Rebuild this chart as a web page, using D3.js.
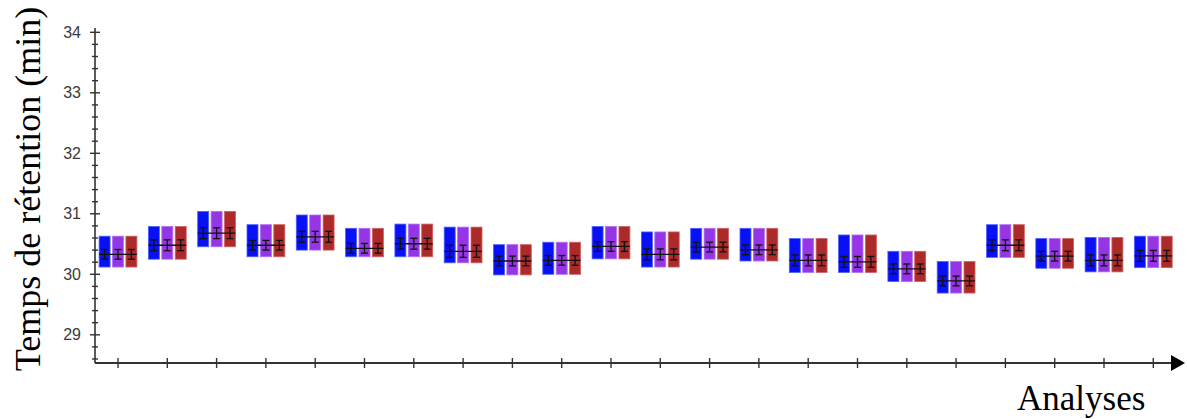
<!DOCTYPE html>
<html>
<head>
<meta charset="utf-8">
<script src="https://cdn.jsdelivr.net/npm/d3@7"></script>
<style>
html,body{margin:0;padding:0;background:#fff;}
svg{display:block;}
</style>
</head>
<body>
<svg id="chart" width="1187" height="419"></svg>
<script>
// ---- data ----
const analyses = d3.range(1, 23).map(String);
const series = ["A", "B", "C"];
const seriesColors = ["#0a10f5", "#9535e6", "#ad2a2a"];
const seriesStroke = ["#4a60ff", "#b070f0", "#d06060"];
const boxTop =    [30.63,30.79,31.04,30.82,30.98,30.76,30.83,30.78,30.49,30.53,30.79,30.70,30.76,30.76,30.59,30.65,30.38,30.21,30.82,30.59,30.61,30.63];
const boxBottom = [30.12,30.25,30.455,30.29,30.40,30.29,30.29,30.19,29.99,30.00,30.255,30.12,30.25,30.22,30.03,30.03,29.88,29.69,30.28,30.10,30.04,30.11];
const means =     [30.33,30.48,30.68,30.48,30.62,30.43,30.505,30.38,30.22,30.23,30.46,30.33,30.45,30.405,30.23,30.205,30.09,29.89,30.48,30.30,30.23,30.305];
const errs =      [0.08,0.09,0.09,0.08,0.09,0.08,0.09,0.10,0.08,0.08,0.08,0.09,0.08,0.08,0.09,0.09,0.08,0.08,0.09,0.08,0.09,0.09];
const yTickLabels = [29, 30, 31, 32, 33, 34];
const yTitle = "Temps de rétention (min)";
const xTitle = "Analyses";

// ---- scales ----
const svg = d3.select("#chart");
const y = d3.scaleLinear().domain([30, 34]).range([274.3, 32.3]);
const x = d3.scalePoint().domain(analyses).range([118, 1153.3]);
const xs = d3.scaleBand().domain(series).range([-18.9, 18.9]).paddingInner(0.18).paddingOuter(0);

const axisX = 95, axisY = 363;
const axisColor = "#333";

// y axis line
svg.append("line").attr("x1", axisX).attr("x2", axisX).attr("y1", 28).attr("y2", axisY)
  .attr("stroke", axisColor).attr("stroke-width", 1.6);
// minor ticks
const minor = d3.range(28.6, 34.01, 0.2).map(v => +v.toFixed(1));
svg.append("g").selectAll("line").data(minor.filter(v => !yTickLabels.includes(v))).join("line")
  .attr("x1", axisX - 3).attr("x2", axisX + 3)
  .attr("y1", d => y(d)).attr("y2", d => y(d))
  .attr("stroke", axisColor).attr("stroke-width", 1.4);
// major ticks
svg.append("g").selectAll("line").data(yTickLabels).join("line")
  .attr("x1", axisX - 5).attr("x2", axisX + 5)
  .attr("y1", d => y(d)).attr("y2", d => y(d))
  .attr("stroke", axisColor).attr("stroke-width", 1.4);
svg.append("g").selectAll("text").data(yTickLabels).join("text")
  .attr("x", 81).attr("y", d => y(d)).attr("dy", "0.35em")
  .attr("text-anchor", "end").attr("font-family", "Liberation Sans, Arial, sans-serif")
  .attr("font-size", 16).attr("fill", "#3a3a3a").text(d => d);

// x axis
svg.append("line").attr("x1", axisX).attr("x2", 1174).attr("y1", axisY).attr("y2", axisY)
  .attr("stroke", axisColor).attr("stroke-width", 1.8);
svg.append("path").attr("d", `M1171,355 L1185,${axisY} L1171,371 Z`).attr("fill", "#000");
svg.append("g").selectAll("line").data(analyses).join("line")
  .attr("x1", d => x(d)).attr("x2", d => x(d))
  .attr("y1", axisY - 5).attr("y2", axisY + 5)
  .attr("stroke", axisColor).attr("stroke-width", 1.4);

// boxes
const groups = svg.append("g").selectAll("g").data(analyses).join("g")
  .attr("transform", d => `translate(${x(d)},0)`);
groups.each(function(a, i) {
  const g = d3.select(this);
  series.forEach((s, k) => {
    g.append("rect")
      .attr("x", xs(s)).attr("width", xs.bandwidth())
      .attr("y", y(boxTop[i])).attr("height", y(boxBottom[i]) - y(boxTop[i]))
      .attr("fill", seriesColors[k]).attr("stroke", seriesStroke[k]).attr("stroke-width", 0.8);
  });
  // mean line across group
  g.append("line").attr("x1", xs("A")).attr("x2", xs("C") + xs.bandwidth())
    .attr("y1", y(means[i])).attr("y2", y(means[i]))
    .attr("stroke", "#111").attr("stroke-width", 1.3);
  series.forEach((s, k) => {
    const cx = xs(s) + xs.bandwidth() / 2;
    const lo = y(means[i] - errs[i]), hi = y(means[i] + errs[i]);
    g.append("line").attr("x1", cx).attr("x2", cx).attr("y1", lo).attr("y2", hi)
      .attr("stroke", "#111").attr("stroke-width", 1.3);
    [lo, hi].forEach(yy => g.append("line").attr("x1", cx - 3.5).attr("x2", cx + 3.5)
      .attr("y1", yy).attr("y2", yy).attr("stroke", "#111").attr("stroke-width", 1.3));
  });
});

// titles
svg.append("text").attr("transform", "translate(40,189) rotate(-90)")
  .attr("text-anchor", "middle").attr("font-family", "Liberation Serif, Times New Roman, serif")
  .attr("font-size", 36).attr("fill", "#000").text(yTitle);
svg.append("text").attr("x", 1017).attr("y", 410)
  .attr("font-family", "Liberation Serif, Times New Roman, serif")
  .attr("font-size", 35).attr("fill", "#000").text(xTitle);
</script>
</body>
</html>
